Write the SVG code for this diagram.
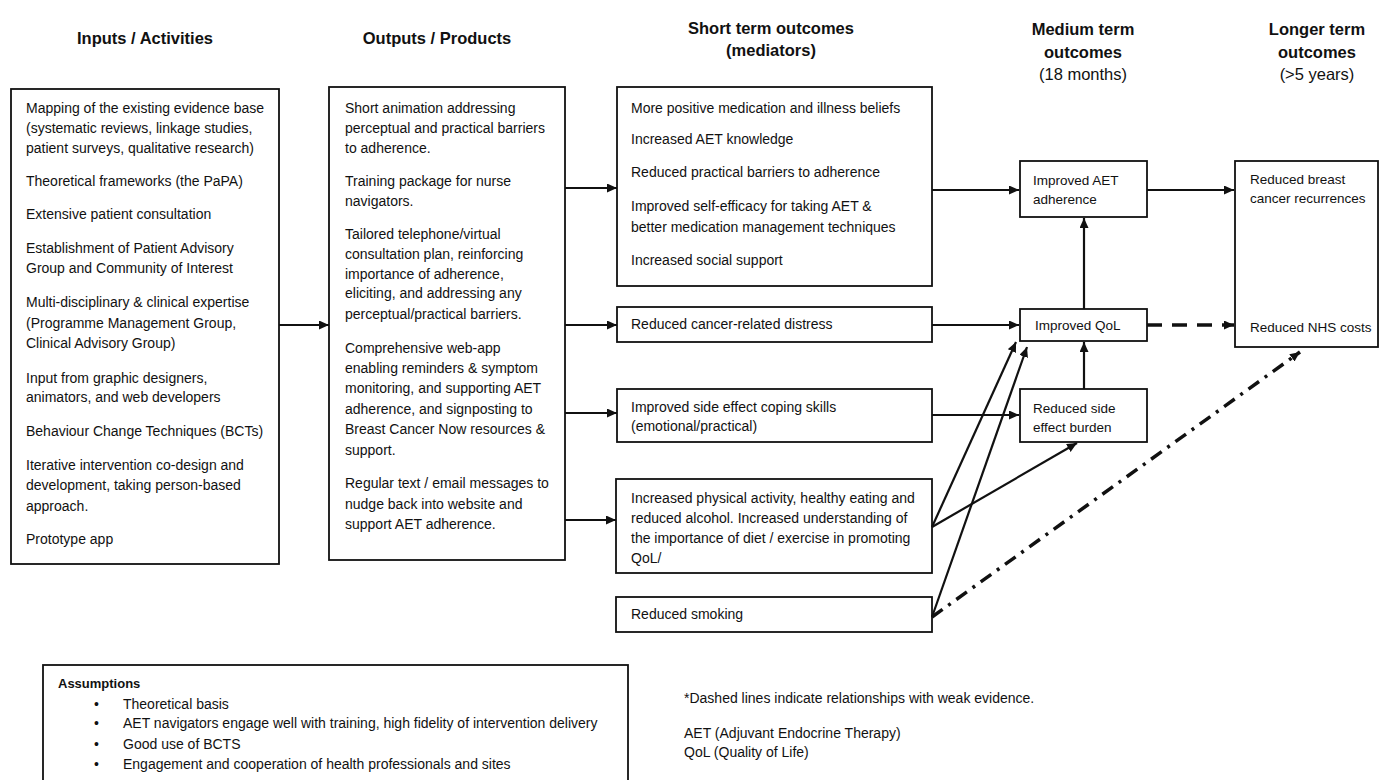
<svg xmlns="http://www.w3.org/2000/svg" width="1379" height="780" viewBox="0 0 1379 780">
<style>
text{font-family:"Liberation Sans",Arial,sans-serif;font-size:14px;fill:#111}
.h{font-size:16.5px;font-weight:bold;text-anchor:middle}
.hn{font-size:16.5px;text-anchor:middle}
.s{font-size:13.5px}
.box{fill:#fff;stroke:#111;stroke-width:1.8}
.ln{fill:none;stroke:#111;stroke-width:2.2}
.dash{fill:none;stroke:#111;stroke-width:3.5;stroke-dasharray:15 10}
.dd{fill:none;stroke:#111;stroke-width:3.5;stroke-dasharray:13 7 3 7}
.b{font-weight:bold;font-size:13px}
</style>
<defs>
<marker id="ah" markerUnits="userSpaceOnUse" markerWidth="11" markerHeight="10" refX="10" refY="4.5" orient="auto">
<path d="M0,0 L10,4.5 L0,9 z" fill="#111"/>
</marker>
</defs>
<rect width="1379" height="780" fill="#fff"/>

<g id="headers">
<text class="h" x="145" y="44">Inputs / Activities</text>
<text class="h" x="437" y="44">Outputs / Products</text>
<text class="h" x="771" y="34">Short term outcomes</text>
<text class="h" x="771" y="56">(mediators)</text>
<text class="h" x="1083" y="35">Medium term</text>
<text class="h" x="1083" y="58">outcomes</text>
<text class="hn" x="1083" y="80">(18 months)</text>
<text class="h" x="1317" y="35">Longer term</text>
<text class="h" x="1317" y="58">outcomes</text>
<text class="hn" x="1317" y="80">(&gt;5 years)</text>
</g>

<g id="inputs">
<rect class="box" x="11" y="89" width="268" height="475"/>
<text x="26" y="113">Mapping of the existing evidence base</text>
<text x="26" y="133">(systematic reviews, linkage studies,</text>
<text x="26" y="153">patient surveys, qualitative research)</text>
<text x="26" y="186">Theoretical frameworks (the PaPA)</text>
<text x="26" y="219">Extensive patient consultation</text>
<text x="26" y="253">Establishment of Patient Advisory</text>
<text x="26" y="273">Group and Community of Interest</text>
<text x="26" y="307">Multi-disciplinary &amp; clinical expertise</text>
<text x="26" y="328">(Programme Management Group,</text>
<text x="26" y="348">Clinical Advisory Group)</text>
<text x="26" y="383">Input from graphic designers,</text>
<text x="26" y="402">animators, and web developers</text>
<text x="26" y="436">Behaviour Change Techniques (BCTs)</text>
<text x="26" y="470">Iterative intervention co-design and</text>
<text x="26" y="490">development, taking person-based</text>
<text x="26" y="511">approach.</text>
<text x="26" y="544">Prototype app</text>
</g>

<g id="outputs">
<rect class="box" x="329" y="87" width="236" height="473"/>
<text x="345" y="113">Short animation addressing</text>
<text x="345" y="133">perceptual and practical barriers</text>
<text x="345" y="153">to adherence.</text>
<text x="345" y="186">Training package for nurse</text>
<text x="345" y="206">navigators.</text>
<text x="345" y="239">Tailored telephone/virtual</text>
<text x="345" y="259">consultation plan, reinforcing</text>
<text x="345" y="279">importance of adherence,</text>
<text x="345" y="298">eliciting, and addressing any</text>
<text x="345" y="319">perceptual/practical barriers.</text>
<text x="345" y="353">Comprehensive web-app</text>
<text x="345" y="373">enabling reminders &amp; symptom</text>
<text x="345" y="393">monitoring, and supporting AET</text>
<text x="345" y="414">adherence, and signposting to</text>
<text x="345" y="434">Breast Cancer Now resources &amp;</text>
<text x="345" y="455">support.</text>
<text x="345" y="488">Regular text / email messages to</text>
<text x="345" y="509">nudge back into website and</text>
<text x="345" y="529">support AET adherence.</text>
</g>

<g id="mediators">
<rect class="box" x="617" y="87" width="315" height="199"/>
<text x="631" y="113">More positive medication and illness beliefs</text>
<text x="631" y="144">Increased AET knowledge</text>
<text x="631" y="177">Reduced practical barriers to adherence</text>
<text x="631" y="211">Improved self-efficacy for taking AET &amp;</text>
<text x="631" y="232">better medication management techniques</text>
<text x="631" y="265">Increased social support</text>
</g>

<g id="distress">
<rect class="box" x="617" y="307" width="315" height="35"/>
<text x="631" y="329">Reduced cancer-related distress</text>
</g>

<g id="coping">
<rect class="box" x="617" y="389" width="315" height="53"/>
<text x="631" y="412">Improved side effect coping skills</text>
<text x="631" y="431">(emotional/practical)</text>
</g>

<g id="physical">
<rect class="box" x="616" y="479" width="316" height="94"/>
<text x="631" y="503">Increased physical activity, healthy eating and</text>
<text x="631" y="523">reduced alcohol. Increased understanding of</text>
<text x="631" y="543">the importance of diet / exercise in promoting</text>
<text x="631" y="563">QoL/</text>
</g>

<g id="smoking">
<rect class="box" x="616" y="597" width="316" height="35"/>
<text x="631" y="619">Reduced smoking</text>
</g>

<g id="adherence">
<rect class="box" x="1020" y="161" width="127" height="56"/>
<text class="s" x="1033" y="185">Improved AET</text>
<text class="s" x="1033" y="204">adherence</text>
</g>

<g id="qol">
<rect class="box" x="1020" y="309" width="127" height="32"/>
<text class="s" x="1035" y="330">Improved QoL</text>
</g>

<g id="sideeffect">
<rect class="box" x="1020" y="389" width="127" height="53"/>
<text class="s" x="1033" y="413">Reduced side</text>
<text class="s" x="1033" y="432">effect burden</text>
</g>

<g id="longer">
<rect class="box" x="1235" y="161" width="143" height="186"/>
<text class="s" x="1250" y="184">Reduced breast</text>
<text class="s" x="1250" y="203">cancer recurrences</text>
<text class="s" x="1250" y="332">Reduced NHS costs</text>
</g>

<g id="connectors">
<line class="ln" x1="279" y1="325" x2="329" y2="325" marker-end="url(#ah)"/>
<line class="ln" x1="565" y1="188" x2="617" y2="188" marker-end="url(#ah)"/>
<line class="ln" x1="565" y1="325" x2="617" y2="325" marker-end="url(#ah)"/>
<line class="ln" x1="565" y1="413" x2="617" y2="413" marker-end="url(#ah)"/>
<line class="ln" x1="565" y1="520" x2="616" y2="520" marker-end="url(#ah)"/>
<line class="ln" x1="932" y1="190" x2="1019" y2="190" marker-end="url(#ah)"/>
<line class="ln" x1="1147" y1="190" x2="1234" y2="190" marker-end="url(#ah)"/>
<line class="ln" x1="932" y1="325" x2="1019" y2="325" marker-end="url(#ah)"/>
<line class="ln" x1="1084" y1="309" x2="1084" y2="218" marker-end="url(#ah)"/>
<line class="ln" x1="1084" y1="389" x2="1084" y2="342" marker-end="url(#ah)"/>
<line class="ln" x1="932" y1="415" x2="1019" y2="415" marker-end="url(#ah)"/>
<line class="ln" x1="932" y1="527" x2="1016" y2="342" marker-end="url(#ah)"/>
<line class="ln" x1="932" y1="617" x2="1027" y2="347" marker-end="url(#ah)"/>
<line class="ln" x1="932" y1="527" x2="1077" y2="443" marker-end="url(#ah)"/>
<line class="dash" x1="1147" y1="325" x2="1234" y2="325" marker-end="url(#ah)"/>
<line class="dd" x1="932" y1="617" x2="1300" y2="352" marker-end="url(#ah)"/>
</g>

<g id="assumptions">
<rect class="box" x="43" y="665" width="585" height="140"/>
<text class="b" x="58" y="688">Assumptions</text>
<text x="94" y="709">•</text><text x="123" y="709">Theoretical basis</text>
<text x="94" y="728">•</text><text x="123" y="728">AET navigators engage well with training, high fidelity of intervention delivery</text>
<text x="94" y="749">•</text><text x="123" y="749">Good use of BCTS</text>
<text x="94" y="769">•</text><text x="123" y="769">Engagement and cooperation of health professionals and sites</text>
</g>

<g id="notes">
<text x="684" y="703">*Dashed lines indicate relationships with weak evidence.</text>
<text x="684" y="738">AET (Adjuvant Endocrine Therapy)</text>
<text x="684" y="757">QoL (Quality of Life)</text>
</g>
</svg>
